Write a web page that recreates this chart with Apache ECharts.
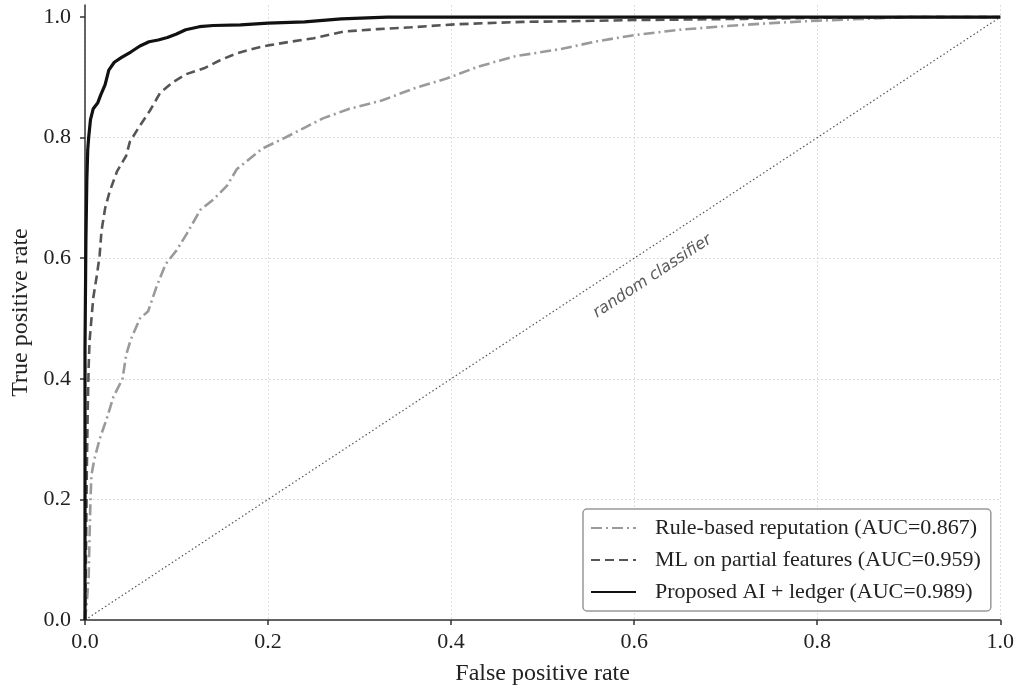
<!DOCTYPE html>
<html>
<head>
<meta charset="utf-8">
<script src="https://cdn.jsdelivr.net/npm/echarts@6/dist/echarts.min.js"></script>
<style>
  html, body { margin: 0; padding: 0; background: #fff; }
  #chart { width: 1017px; height: 691px; }
</style>
</head>
<body>
<div id="chart"></div>
<script>
// ROC points: [false positive rate, true positive rate]
const ruleBased = [
  [0, 0], [0.002, 0.03], [0.004, 0.07], [0.005, 0.14], [0.006, 0.2], [0.007, 0.24],
  [0.01, 0.265], [0.016, 0.3], [0.024, 0.335], [0.031, 0.37], [0.041, 0.4],
  [0.045, 0.44], [0.05, 0.465], [0.06, 0.5], [0.069, 0.512], [0.078, 0.552],
  [0.088, 0.59], [0.1, 0.613], [0.111, 0.64], [0.126, 0.68], [0.14, 0.697],
  [0.155, 0.72], [0.166, 0.748], [0.18, 0.765], [0.194, 0.782], [0.216, 0.798],
  [0.238, 0.815], [0.26, 0.832], [0.289, 0.848], [0.325, 0.862], [0.36, 0.882],
  [0.395, 0.898], [0.43, 0.918], [0.47, 0.935], [0.52, 0.947], [0.56, 0.96],
  [0.6, 0.97], [0.65, 0.979], [0.7, 0.985], [0.75, 0.99], [0.8, 0.994],
  [0.85, 0.997], [0.9, 1.0], [1, 1]
];
const mlPartial = [
  [0, 0], [0.001, 0.1], [0.002, 0.25], [0.003, 0.35], [0.004, 0.42], [0.005, 0.463],
  [0.009, 0.534], [0.013, 0.572], [0.016, 0.605], [0.018, 0.645], [0.022, 0.683],
  [0.027, 0.711], [0.035, 0.744], [0.045, 0.77], [0.049, 0.793], [0.06, 0.82],
  [0.071, 0.845], [0.082, 0.874], [0.096, 0.892], [0.11, 0.905], [0.13, 0.915],
  [0.147, 0.928], [0.166, 0.94], [0.185, 0.948], [0.2, 0.953], [0.224, 0.959],
  [0.25, 0.965], [0.283, 0.976], [0.32, 0.98], [0.356, 0.983], [0.405, 0.988],
  [0.478, 0.992], [0.527, 0.993], [0.6, 0.995], [0.72, 0.997], [0.82, 0.999],
  [0.9, 1], [1, 1]
];
const proposed = [
  [0, 0], [0, 0.45], [0.001, 0.63], [0.002, 0.73], [0.003, 0.78], [0.004, 0.8],
  [0.006, 0.83], [0.009, 0.848], [0.014, 0.858], [0.017, 0.87], [0.022, 0.888],
  [0.026, 0.912], [0.032, 0.925], [0.04, 0.933], [0.05, 0.942], [0.06, 0.952],
  [0.07, 0.959], [0.08, 0.962], [0.09, 0.966], [0.1, 0.972], [0.11, 0.979],
  [0.125, 0.984], [0.14, 0.986], [0.17, 0.987], [0.2, 0.99], [0.24, 0.992],
  [0.28, 0.997], [0.33, 1.0], [1, 1]
];
const diagonal = [[0, 0], [1, 1]];

const seriesNames = [
  'Rule-based reputation (AUC=0.867)',
  'ML on partial features (AUC=0.959)',
  'Proposed AI + ledger (AUC=0.989)'
];
const tickValues = [0, 0.2, 0.4, 0.6, 0.8, 1.0];
const diagLabel = 'random classifier';
const diagLabelAt = [0.62, 0.57];

const serif = '"Liberation Serif", "Times New Roman", serif';
const ink = '#222';

const chart = echarts.init(document.getElementById('chart'));

chart.setOption({
  animation: false,
  backgroundColor: '#fff',
  grid: { left: 85, right: 15, top: 5, bottom: 68 },
  legend: {
    data: seriesNames,
    orient: 'vertical',
    left: 583,
    top: 509,
    align: 'left',
    itemWidth: 45,
    itemHeight: 14,
    itemGap: 10,
    padding: [8, 10, 8, 7],
    backgroundColor: 'rgba(255,255,255,0.9)',
    borderColor: '#999',
    borderWidth: 1.5,
    borderRadius: 4,
    // hide the symbol ECharts puts on line legend icons; the line stays
    itemStyle: { opacity: 0 },
    textStyle: {
      fontFamily: serif,
      fontSize: 22,
      color: ink,
      padding: [0, 0, 0, 14]
    }
  },
  xAxis: {
    type: 'value',
    min: 0,
    max: 1,
    interval: 0.2,
    name: 'False positive rate',
    nameLocation: 'middle',
    nameGap: 42,
    nameTextStyle: { fontFamily: serif, fontSize: 24, color: ink },
    axisLine: { show: true, lineStyle: { color: '#333', width: 1.5 } },
    axisTick: { show: true, length: 5, lineStyle: { color: '#333', width: 1.5 } },
    axisLabel: {
      margin: 11,
      fontFamily: serif,
      fontSize: 22,
      color: ink,
      formatter: v => v.toFixed(1)
    },
    splitLine: { show: true, lineStyle: { color: '#ddd', width: 1, type: [2, 2] } }
  },
  yAxis: {
    type: 'value',
    min: 0,
    max: 1.02,
    interval: 0.2,
    name: 'True positive rate',
    nameLocation: 'middle',
    nameGap: 52,
    nameTextStyle: { fontFamily: serif, fontSize: 24, color: ink },
    axisLine: { show: true, lineStyle: { color: '#333', width: 1.5 } },
    axisTick: { show: true, length: 5, customValues: tickValues, lineStyle: { color: '#333', width: 1.5 } },
    axisLabel: {
      margin: 14,
      fontFamily: serif,
      fontSize: 22,
      color: ink,
      customValues: tickValues,
      formatter: v => v.toFixed(1)
    },
    splitLine: { show: true, showMaxLine: false, lineStyle: { color: '#ddd', width: 1, type: [2, 2] } }
  },
  series: [
    {
      name: 'diagonal',
      type: 'line',
      data: diagonal,
      symbol: 'none',
      z: 1,
      lineStyle: { color: '#555', width: 1.2, type: [1.5, 2.5] },
      markPoint: {
        symbol: 'circle',
        symbolSize: 0,
        data: [{ coord: diagLabelAt }],
        label: {
          show: true,
          formatter: diagLabel,
          rotate: 33.4,
          fontFamily: '"DejaVu Sans", sans-serif',
          fontStyle: 'italic',
          fontSize: 16,
          color: '#5a5a5a'
        }
      }
    },
    {
      name: seriesNames[0],
      type: 'line',
      data: ruleBased,
      symbol: 'none',
      z: 2,
      lineStyle: { color: '#9a9a9a', width: 2.6, type: [11, 4, 2, 4] },
      itemStyle: { color: '#9a9a9a' }
    },
    {
      name: seriesNames[1],
      type: 'line',
      data: mlPartial,
      symbol: 'none',
      z: 3,
      lineStyle: { color: '#555', width: 2.6, type: [9, 5] },
      itemStyle: { color: '#555' }
    },
    {
      name: seriesNames[2],
      type: 'line',
      data: proposed,
      symbol: 'none',
      z: 4,
      lineStyle: { color: '#111', width: 3.2 },
      itemStyle: { color: '#111' }
    }
  ]
});
</script>
</body>
</html>
